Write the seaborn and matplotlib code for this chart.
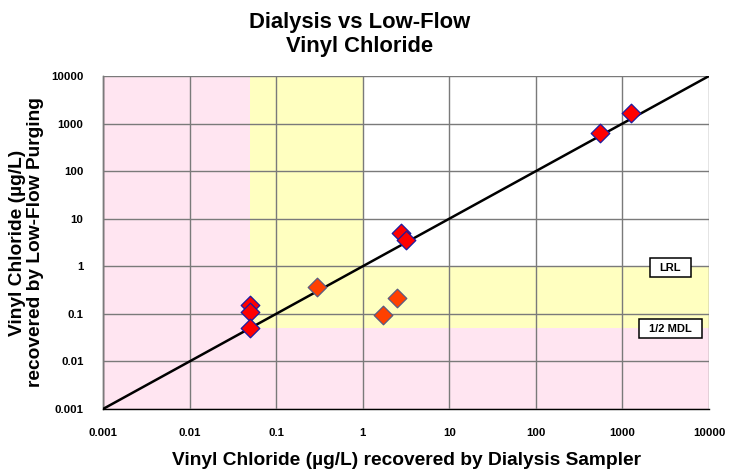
import matplotlib
matplotlib.use("Agg")
import matplotlib.pyplot as plt
from matplotlib.patches import Rectangle
import seaborn as sns
import pandas as pd

# ---- data ----
red_x = [0.05, 0.05, 0.05, 2.8, 3.2, 545, 1240]
red_y = [0.15, 0.11, 0.05, 5.0, 3.5, 620, 1650]
orange_x = [0.30, 1.7, 2.5]
orange_y = [0.37, 0.095, 0.22]
ticks = [0.001, 0.01, 0.1, 1, 10, 100, 1000, 10000]
tick_labels = ["0.001", "0.01", "0.1", "1", "10", "100", "1000", "10000"]
half_mdl = 0.05
lrl = 1.0
line_xy = [0.001, 10000]

sns.set_theme(style="white")
plt.rcParams['font.family'] = ['Liberation Sans', 'DejaVu Sans']
plt.rcParams['text.color'] = 'black'
plt.rcParams['axes.labelcolor'] = 'black'
plt.rcParams['xtick.labelcolor'] = 'black'
plt.rcParams['ytick.labelcolor'] = 'black'

fig = plt.figure(figsize=(7.3, 4.7), dpi=100)
ax = fig.add_axes([103/730, 1-409/470, (709-103)/730, (409-76)/470])
ax.set_xscale("log")
ax.set_yscale("log")
ax.set_xlim(line_xy[0], line_xy[1])
ax.set_ylim(line_xy[0], line_xy[1])

pink = "#FFE5F1"
yellow = "#FFFFC0"
# background regions
ax.axvspan(line_xy[0], half_mdl, color=pink, zorder=0, lw=0)
ax.axhspan(line_xy[0], half_mdl, color=pink, zorder=0, lw=0)
ax.fill_between([half_mdl, lrl], half_mdl, line_xy[1], color=yellow, zorder=0, lw=0)
ax.fill_between([half_mdl, line_xy[1]], half_mdl, lrl, color=yellow, zorder=0, lw=0)

ax.set_xticks(ticks)
ax.set_xticklabels(tick_labels)
ax.set_yticks(ticks)
ax.set_yticklabels(tick_labels)
ax.minorticks_off()
ax.grid(True, which="major", color="#7a7a7a", lw=1.0, zorder=1)
ax.set_axisbelow(False)
for s in ["top", "right"]:
    ax.spines[s].set_visible(False)
for s in ["left", "bottom"]:
    ax.spines[s].set_color("black")
    ax.spines[s].set_linewidth(1.0)
ax.tick_params(axis="both", which="major", direction="out", length=5, width=1,
               color="#7a7a7a", labelsize=8.2, pad=9)
for lab in ax.get_xticklabels() + ax.get_yticklabels():
    lab.set_fontweight("bold")

sns.lineplot(x=line_xy, y=line_xy, ax=ax, color="black", lw=1.8, zorder=3)

df_red = pd.DataFrame({"x": red_x, "y": red_y})
df_or = pd.DataFrame({"x": orange_x, "y": orange_y})
sns.scatterplot(data=df_or, x="x", y="y", ax=ax, marker="D", s=90,
                color="#FF4000", edgecolor="#5a5a80", linewidth=0.9, zorder=4)
sns.scatterplot(data=df_red, x="x", y="y", ax=ax, marker="D", s=90,
                color="#FF0000", edgecolor="#1a1aa0", linewidth=0.9, zorder=4)

# label boxes
for (bx, by, bw, bh, txt) in [(0.9025, 0.3964, 0.0678, 0.0571, "LRL"),
                              (0.8843, 0.2132, 0.1041, 0.0571, "1/2 MDL")]:
    ax.add_patch(Rectangle((bx, by), bw, bh, transform=ax.transAxes,
                           fc="white", ec="black", lw=1.1, zorder=5, clip_on=False))
    ax.text(bx + bw/2, by + bh/2, txt, transform=ax.transAxes, ha="center",
            va="center_baseline", fontsize=8, fontweight="bold", zorder=6)

ax.set_xlabel("Vinyl Chloride (\u00b5g/L) recovered by Dialysis Sampler",
              fontsize=13.8, fontweight="bold", labelpad=10)
ax.set_ylabel("Vinyl Chloride (\u00b5g/L)\nrecovered by Low-Flow Purging",
              fontsize=13.8, fontweight="bold", labelpad=5, linespacing=1.1)
fig.suptitle("Dialysis vs Low-Flow\nVinyl Chloride", x=0.492, y=0.975,
             fontsize=15.8, fontweight="bold", linespacing=1.2)

fig.savefig("out.png", dpi=100, facecolor="white")
